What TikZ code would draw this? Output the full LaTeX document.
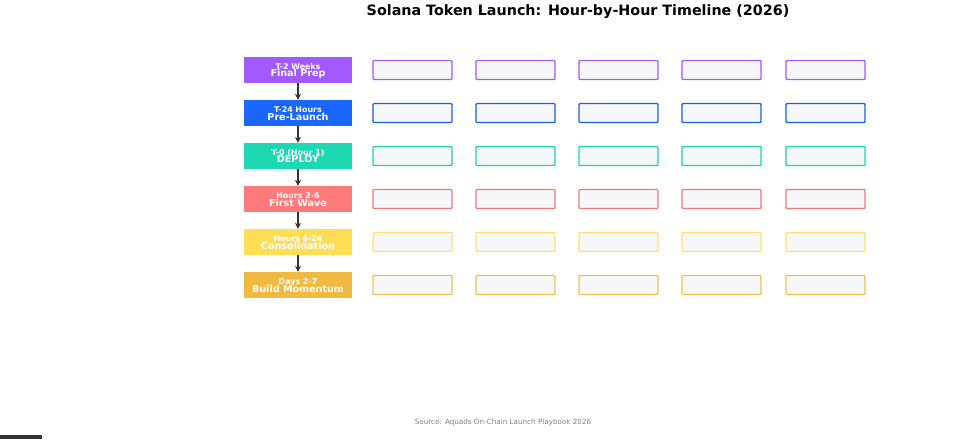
\documentclass[tikz,border=0pt]{standalone}
\usepackage{fontspec}
\setmainfont{DejaVu Sans}
\usetikzlibrary{arrows.meta}
\definecolor{cA}{HTML}{A259FF}
\definecolor{cB}{HTML}{1A66FF}
\definecolor{cC}{HTML}{1DD9B3}
\definecolor{cD}{HTML}{FF7B7B}
\definecolor{cE}{HTML}{FFDD55}
\definecolor{cF}{HTML}{F0BA40}
\definecolor{cAb}{HTML}{A259FF}
\definecolor{cBb}{HTML}{1A5FE0}
\definecolor{cCb}{HTML}{1DD0AE}
\definecolor{cDb}{HTML}{F07A7A}
\definecolor{cEb}{HTML}{FFE070}
\definecolor{cFb}{HTML}{F0C050}
\definecolor{cellfill}{HTML}{F5F7F9}
\definecolor{arr}{HTML}{333333}
\tikzset{
  phase/.style={minimum width=108pt, minimum height=26pt, inner sep=0pt, draw=none},
  cell/.style={minimum width=79pt, minimum height=19pt, inner sep=0pt, rounded corners=1pt, fill=cellfill, line width=1.4pt},
  flow/.style={draw=arr, line width=1.8pt, -{Stealth[length=6pt,width=6pt]}},
  toplbl/.style={text=white, font=\bfseries\fontsize{7.9}{9}\selectfont},
  botlbl/.style={text=white, font=\bfseries\fontsize{9.6}{11}\selectfont},
}
\begin{document}
\begin{tikzpicture}[x=1pt,y=-1pt]
\useasboundingbox (0,0) rectangle (960,439);
\fill[white] (0,0) rectangle (960,439);
\node[font=\bfseries\fontsize{14.3}{16}\selectfont] (title) at (578,12) {Solana Token Launch: Hour-by-Hour Timeline (2026)};
\foreach \i/\c/\t/\b in {1/A/T-2 Weeks/Final Prep,2/B/T-24 Hours/Pre-Launch,3/C/T-0 (Hour 1)/DEPLOY,4/D/Hours 2-6/First Wave,5/E/Hours 6-24/Consolidation,6/F/Days 2-7/Build Momentum}{
  \pgfmathsetmacro{\yy}{70+43*(\i-1)}
  \node[phase, fill=c\c] (p\i) at (298,\yy) {};
  \node[toplbl] (pt\i) at (298,\yy-3) {\t};
  \node[botlbl] (pb\i) at (298,\yy+3.5) {\b};
  \foreach \j/\xx in {1/412.5,2/515.5,3/618.5,4/721.5,5/825.5}{
    \node[cell, draw=c\c b] (c\i\j) at (\xx,\yy) {};
  }
}
\foreach \i/\n in {1/2,2/3,3/4,4/5,5/6}{
  \draw[flow] (p\i.south) -- (p\n.north);
}
\node[text=gray, font=\fontsize{7.2}{8}\selectfont] (src) at (503,423) {Source: Aquads On-Chain Launch Playbook 2026};
\fill[arr] (0,435) rectangle (42,439);
\end{tikzpicture}
\end{document}
